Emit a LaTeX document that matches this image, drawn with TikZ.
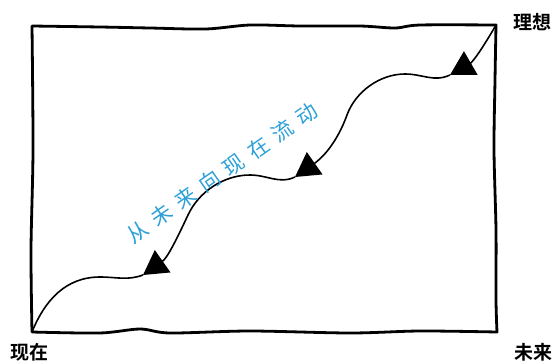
\documentclass[tikz,border=0pt]{standalone}
\usepackage{fontspec}
\newfontfamily\cjkbold{Noto Sans CJK SC Bold}
\newfontfamily\cjkflow[LetterSpace=40]{Noto Sans CJK SC}
\usetikzlibrary{arrows.meta}
\definecolor{flowblue}{RGB}{45,160,215}

\begin{document}
\begin{tikzpicture}[x=1pt,y=-1pt,
  frame/.style={line width=2.8pt,line join=round,line cap=round},
  flowtip/.tip={Triangle[length=24pt,width=27pt]},
  flowline/.style={line width=1.6pt,-{flowtip}},
  corner/.style={font=\cjkbold\fontsize{19}{20}\selectfont}]

\useasboundingbox (0,0) rectangle (556,361);

\coordinate (tl) at (32,26);
\coordinate (tr) at (496,25);
\coordinate (br) at (497,332);
\coordinate (bl) at (32,332);

\node (ideal)	at (532,22)	[corner] {理想};
\node (present)	at (29,352)	[corner] {现在};
\node (future)	at (533,352)	[corner] {未来};

% hand drawn frame
\draw [frame] plot[smooth,tension=0.5] coordinates {(tl) (100,27) (150,28) (206,29) (250,25) (300,26) (360,26) (395,28) (420,25) (tr)}
  -- plot[smooth,tension=0.5] coordinates {(tr) (495,80) (494,150) (496,230) (496,300) (br)}
  -- plot[smooth,tension=0.5] coordinates {(br) (420,331) (350,333) (250,331) (170,333) (140,329) (100,333) (bl)}
  -- plot[smooth,tension=0.5] coordinates {(bl) (31,250) (33,150) (tl)};

\coordinate (turn1) at (450,75);
\coordinate (turn2) at (295,177);
\coordinate (turn3) at (143,275);

\draw [flowline] (tr) to[out=240,in=30] (turn1);
\draw [flowline] (turn1) to[out=205,in=0] (405,74) to[out=180,in=70,looseness=0.9] (347,115) to[out=250,in=35] (turn2);
\draw [flowline] (turn2) to[out=205,in=0] (250,175) to[out=180,in=65,looseness=0.9] (188,215) to[out=245,in=35] (turn3);
\draw [line width=1.6pt] (turn3) to[out=200,in=0] (100,277) to[out=180,in=68] (bl);

\node (flowtext)	at (222,173)	[rotate=35,text=flowblue,font=\cjkflow\fontsize{21}{22}\selectfont] {从未来向现在流动};

\end{tikzpicture}
\end{document}
